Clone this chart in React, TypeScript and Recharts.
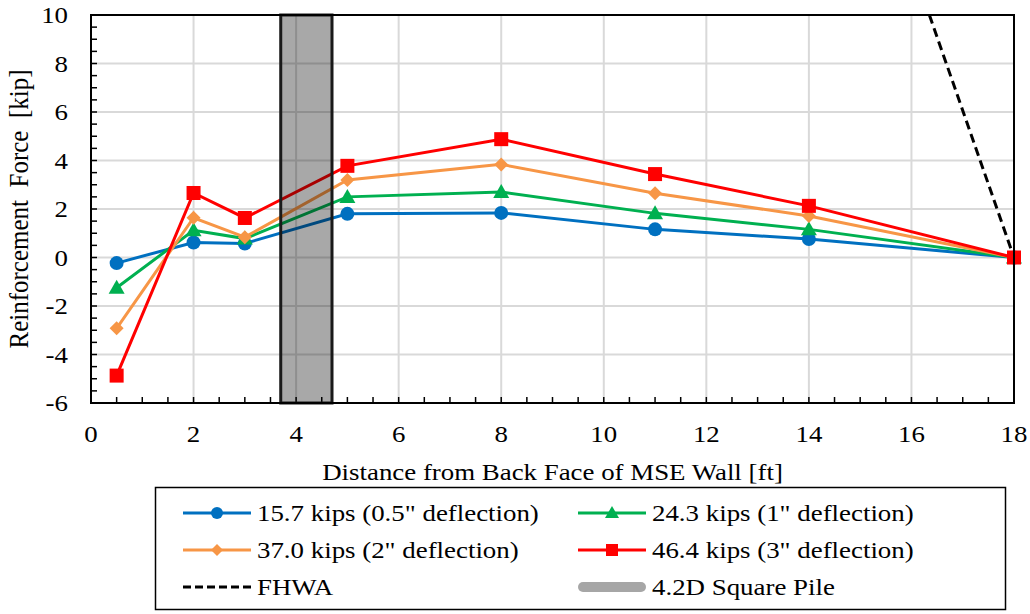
import React from "react";
import {
  LineChart,
  Line,
  XAxis,
  YAxis,
  CartesianGrid,
  ReferenceArea,
} from "recharts";

// distance from back face of wall [ft]
const distance = [0.5, 2, 3, 5, 8, 11, 14, 18];

// reinforcement force [kip] per load step
const force157 = [-0.23, 0.62, 0.58, 1.8, 1.84, 1.16, 0.76, 0];
const force243 = [-1.25, 1.12, 0.78, 2.5, 2.7, 1.82, 1.16, 0];
const force370 = [-2.92, 1.64, 0.84, 3.2, 3.84, 2.65, 1.71, 0];
const force464 = [-4.87, 2.66, 1.63, 3.78, 4.88, 3.44, 2.13, 0];

const fhwaDistance = [16.35, 18];
const fhwaForce = [10, 0];

const pileFrom = 3.7;
const pileTo = 4.7;

const xLabels = [0, 2, 4, 6, 8, 10, 12, 14, 16, 18];
const yLabels = [-6, -4, -2, 0, 2, 4, 6, 8, 10];
const xMinor = Array.from({ length: 37 }, (_, i) => i * 0.5);
const yMinor = Array.from({ length: 33 }, (_, i) => -6 + i * 0.5);

const FONT = "Liberation Serif";
const FS = 24;
// the source figure is a bit wider than tall, text is stretched to match
const STRETCH = 1.12;

type Shape = "circle" | "triangle" | "diamond" | "square";

const series: { key: string; name: string; color: string; shape: Shape; values: number[] }[] = [
  { key: "s157", name: '15.7 kips (0.5" deflection)', color: "#0070C0", shape: "circle", values: force157 },
  { key: "s243", name: '24.3 kips (1" deflection)', color: "#00B050", shape: "triangle", values: force243 },
  { key: "s370", name: '37.0 kips (2" deflection)', color: "#F79646", shape: "diamond", values: force370 },
  { key: "s464", name: '46.4 kips (3" deflection)', color: "#FF0000", shape: "square", values: force464 },
];

const rows = distance.map((x, i) => {
  const row: Record<string, number> = { x };
  series.forEach((s) => (row[s.key] = s.values[i]));
  return row;
});

const fhwaRows = fhwaDistance.map((x, i) => ({ x, fhwa: fhwaForce[i] }));

function HText({ x, y, anchor = "start", children }: { x: number; y: number; anchor?: string; children: React.ReactNode }) {
  return (
    <text
      transform={`translate(${x}, ${y}) scale(${STRETCH}, 1)`}
      textAnchor={anchor}
      fill="#000"
      fontSize={FS}
      fontFamily={FONT}
      style={{ fontFamily: FONT }}
    >
      {children}
    </text>
  );
}

function marker(shape: Shape, cx: number, cy: number, color: string, size = 7, key?: React.Key) {
  if (shape === "circle") return <circle key={key} cx={cx} cy={cy} r={size} fill={color} />;
  if (shape === "triangle")
    return (
      <polygon
        key={key}
        points={`${cx},${cy - size - 1} ${cx - size - 1},${cy + size - 1} ${cx + size + 1},${cy + size - 1}`}
        fill={color}
      />
    );
  if (shape === "diamond")
    return (
      <polygon
        key={key}
        points={`${cx},${cy - size} ${cx + size},${cy} ${cx},${cy + size} ${cx - size},${cy}`}
        fill={color}
      />
    );
  return <rect key={key} x={cx - size} y={cy - size} width={size * 2} height={size * 2} fill={color} />;
}

const XTick = (p: any) => {
  const v = p.payload?.value;
  if (v % 2 !== 0) return <g />;
  return (
    <HText x={p.x} y={p.y + 14} anchor="middle">
      {v}
    </HText>
  );
};

const YTick = (p: any) => {
  const v = p.payload?.value;
  if (v % 2 !== 0) return <g />;
  return (
    <HText x={p.x} y={p.y + 8} anchor="end">
      {v}
    </HText>
  );
};

function LegendBox() {
  const cols = [183, 578];
  const rowsY = [513, 550, 587];
  const items: { sw: React.ReactNode; label: string }[] = series.map((s) => ({
    label: s.name,
    sw: (
      <>
        <line x1={0} y1={0} x2={68} y2={0} stroke={s.color} strokeWidth={3} />
        {marker(s.shape, 34, 0, s.color, 6)}
      </>
    ),
  }));
  items.push({
    label: "FHWA",
    sw: <line x1={0} y1={0} x2={68} y2={0} stroke="#000" strokeWidth={3} strokeDasharray="8 4" />,
  });
  items.push({
    label: "4.2D Square Pile",
    sw: <line x1={5} y1={0} x2={63} y2={0} stroke="#A6A6A6" strokeWidth={10} strokeLinecap="round" />,
  });
  return (
    <svg width={1030} height={614} style={{ position: "absolute", left: 0, top: 0, pointerEvents: "none" }}>
      <rect x={155.5} y={487.5} width={850} height={122} fill="none" stroke="#000" strokeWidth={1.5} />
      {items.map((it, i) => {
        const x = cols[i % 2];
        const y = rowsY[Math.floor(i / 2)];
        return (
          <g key={it.label}>
            <g transform={`translate(${x}, ${y})`}>{it.sw}</g>
            <HText x={x + 74} y={y + 8}>
              {it.label}
            </HText>
          </g>
        );
      })}
    </svg>
  );
}

export default function App() {
  return (
    <div style={{ position: "absolute", left: 0, top: 0, width: 1030, height: 614, background: "#fff" }}>
      <LineChart
        width={1030}
        height={614}
        data={rows}
        margin={{ top: 15, right: 16, bottom: 131, left: 0 }}
      >
        <CartesianGrid
          stroke="#D9D9D9"
          strokeWidth={2}
          horizontalValues={yLabels}
          verticalValues={xLabels}
        />
        <XAxis
          type="number"
          dataKey="x"
          domain={[0, 18]}
          ticks={xMinor}
          interval={0}
          height={80}
          tickSize={-6}
          tickMargin={31}
          tick={<XTick />}
          axisLine={{ stroke: "#000", strokeWidth: 2 }}
          tickLine={{ stroke: "#000", strokeWidth: 1.5 }}
          label={{
            content: (p: any) => {
              const vb = p.viewBox || {};
              const cx = (vb.x ?? 91) + (vb.width ?? 923) / 2;
              return (
                <HText x={cx} y={480} anchor="middle">
                  Distance from Back Face of MSE Wall [ft]
                </HText>
              );
            },
          }}
        />
        <YAxis
          type="number"
          domain={[-6, 10]}
          ticks={yMinor}
          interval={0}
          width={91}
          tickSize={-6}
          tickMargin={29}
          tick={<YTick />}
          axisLine={{ stroke: "#000", strokeWidth: 2 }}
          tickLine={{ stroke: "#000", strokeWidth: 1.5 }}
          label={{
            content: (p: any) => {
              const vb = p.viewBox || {};
              const cy = (vb.y ?? 15) + (vb.height ?? 388) / 2;
              return (
                <text
                  transform={`translate(28, ${cy}) rotate(-90) scale(1, ${STRETCH})`}
                  textAnchor="middle"
                  fill="#000"
                  fontSize={25}
                  fontFamily={FONT}
                  style={{ fontFamily: FONT, whiteSpace: "pre" }}
                >
                  {"Reinforcement  Force  [kip]"}
                </text>
              );
            },
          }}
        />
        {series.map((s) => (
          <Line
            key={s.key}
            dataKey={s.key}
            name={s.name}
            stroke={s.color}
            strokeWidth={3}
            isAnimationActive={false}
            dot={(p: any) => marker(s.shape, p.cx, p.cy, s.color, 7, p.index)}
            activeDot={false}
          />
        ))}
        <Line
          data={fhwaRows}
          dataKey="fhwa"
          name="FHWA"
          stroke="#000"
          strokeWidth={3}
          strokeDasharray="9 5"
          dot={false}
          activeDot={false}
          isAnimationActive={false}
        />
        <ReferenceArea
          x1={pileFrom}
          x2={pileTo}
          y1={-6}
          y2={10}
          fill="#000"
          fillOpacity={0.34}
          stroke="#1A1A1A"
          strokeWidth={3}
          zIndex={700}
        />
        <ReferenceArea
          x1={0}
          x2={18}
          y1={-6}
          y2={10}
          fill="none"
          fillOpacity={0}
          stroke="#000"
          strokeWidth={2}
          zIndex={800}
        />
      </LineChart>
      <LegendBox />
    </div>
  );
}
